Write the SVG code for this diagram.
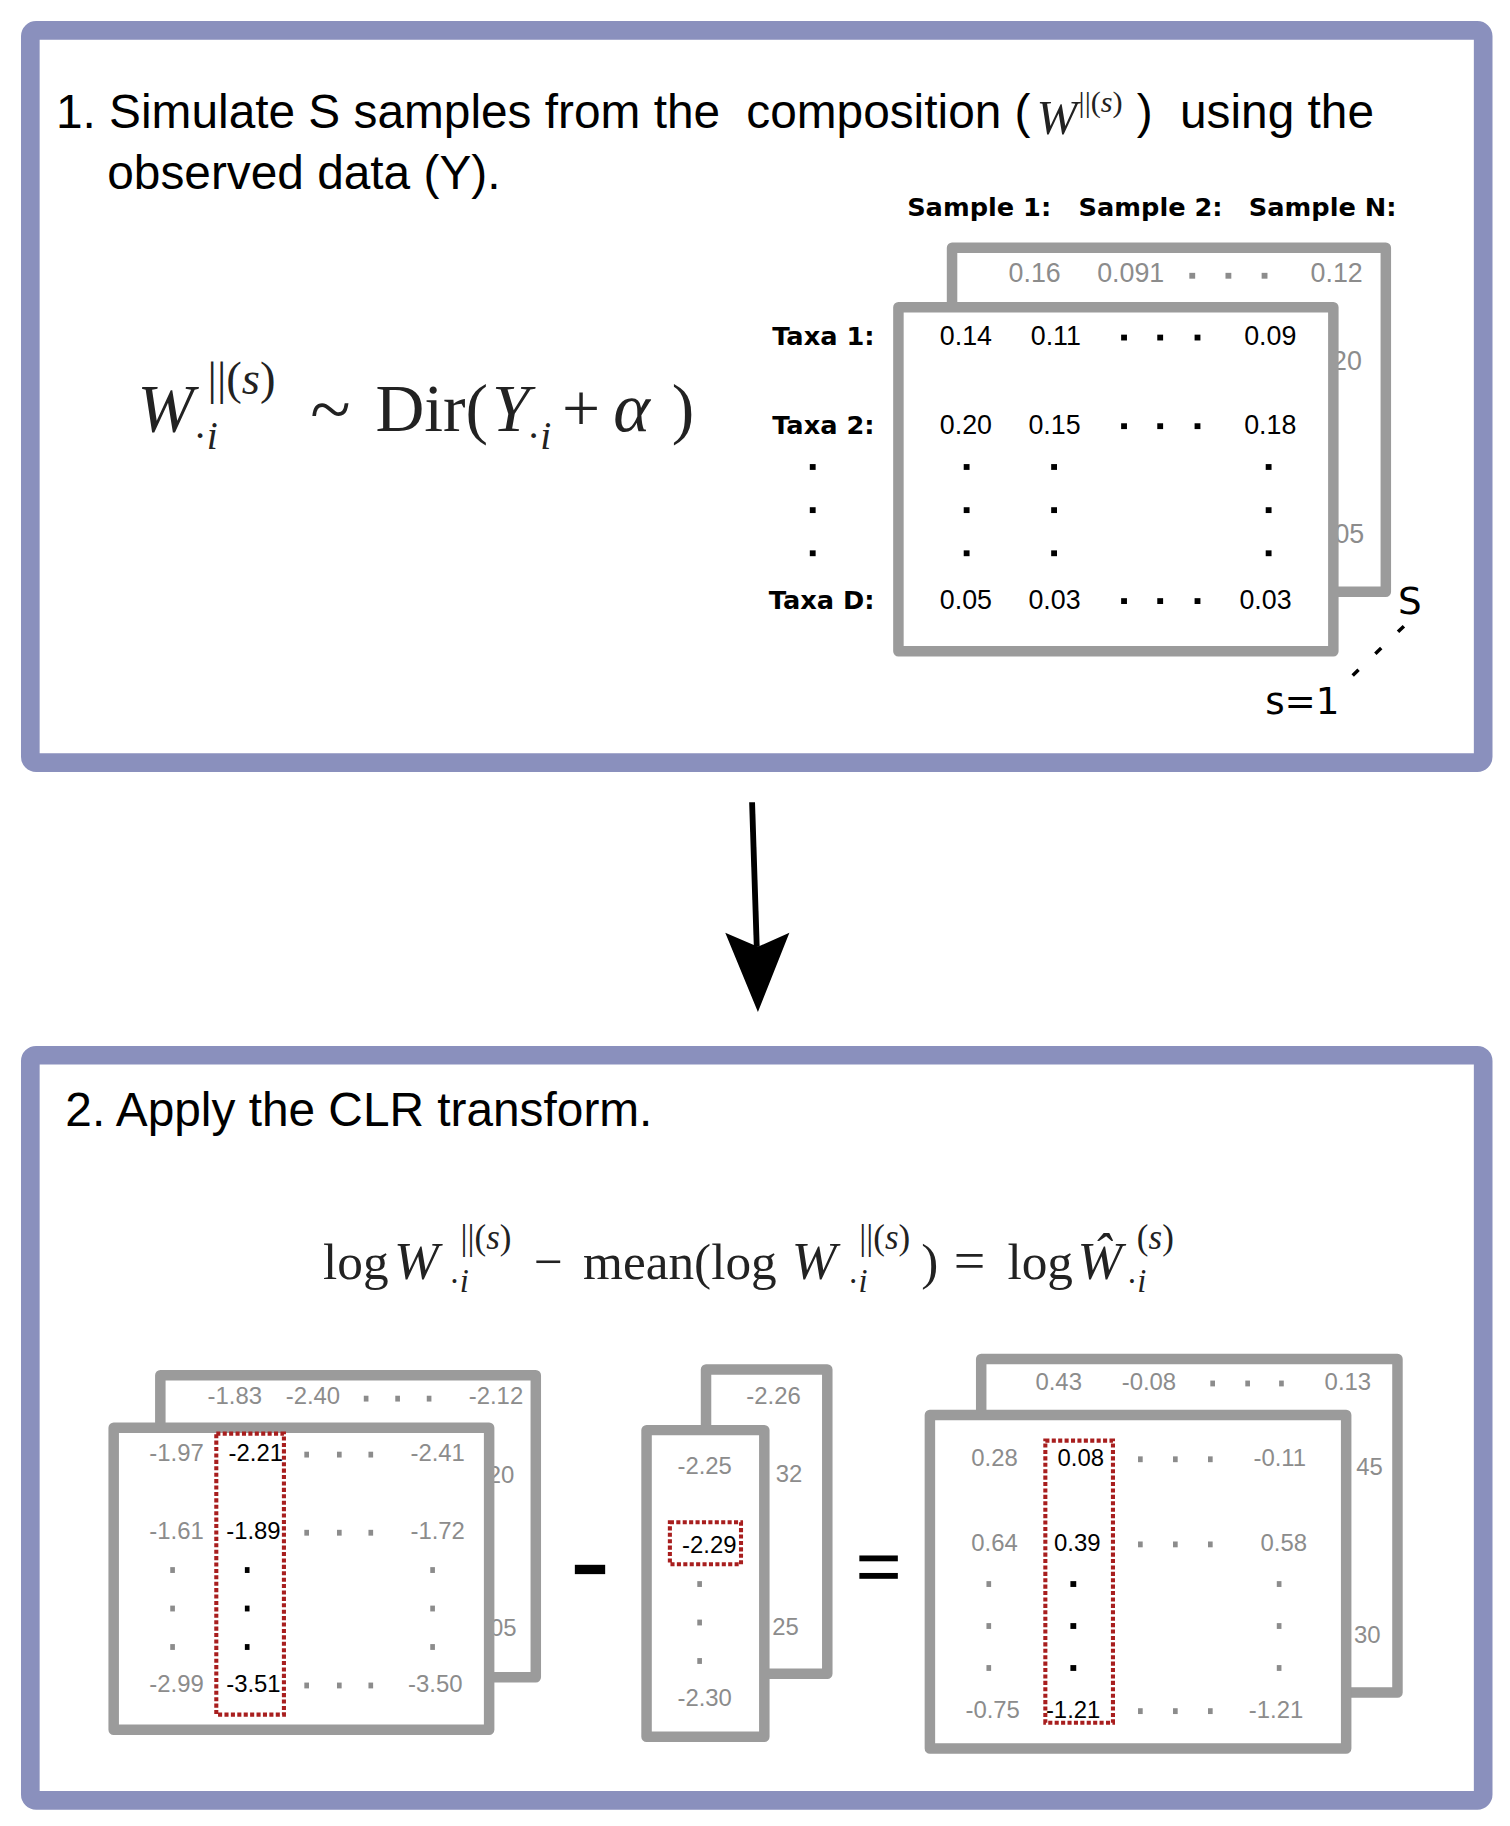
<svg xmlns="http://www.w3.org/2000/svg" width="1510" height="1826" viewBox="0 0 1510 1826">
<style>
.panel{fill:#fff;stroke:#8A90BD;stroke-width:16}
.mat{fill:#fff;stroke:#9B9B9B;stroke-width:9;stroke-linejoin:round}
.sel{fill:none;stroke:#A81E1E;stroke-width:3.5;stroke-dasharray:3.5 2}
.t{font-family:"Liberation Sans",Arial,sans-serif;fill:#000}
.big{font-size:41px}
.b{font-family:"DejaVu Sans",Verdana,sans-serif;font-weight:bold;font-size:22px;fill:#000}
.n{font-family:"Liberation Sans",Arial,sans-serif;font-size:23px;fill:#000}
.g{fill:#8C8C8C}
.n2{font-family:"Liberation Sans",Arial,sans-serif;font-size:20.5px;fill:#8C8C8C}
.k{fill:#000}
.m{font-family:"Liberation Serif","Times New Roman",serif;fill:#222}
.i{font-style:italic}
.v{font-family:"DejaVu Sans",Verdana,sans-serif;font-size:32px;fill:#000}
</style>
<rect width="1510" height="1826" fill="#fff"/>
<g transform="scale(1.16602)">
<g id="panel1">
<rect class="panel" x="26" y="26" width="1246" height="628" rx="5"/>
<text class="t big" x="48" y="110">1. Simulate S samples from the</text>
<text class="t big" x="640" y="110" xml:space="preserve">composition (</text>
<text class="m i" x="889" y="115" font-size="42" fill="#444">W</text>
<text class="m" x="925" y="96" font-size="26" fill="#444">||(<tspan class="i">s</tspan>)</text>
<text class="t big" x="975" y="110">)</text>
<text class="t big" x="1012" y="110">using the</text>
<text class="t big" x="92" y="162">observed data (Y).</text>
</g>
<g id="formula1" class="m">
<text class="m i" x="118" y="370" font-size="58">W</text>
<text class="m" x="178" y="338" font-size="40">||(<tspan class="i">s</tspan>)</text>
<text class="m" x="166" y="385" font-size="34">·<tspan class="i">i</tspan></text>
<text class="m" x="266" y="372" font-size="64">~</text>
<text class="m" x="322" y="370" font-size="58">Dir(</text>
<text class="m i" x="422" y="370" font-size="58">Y</text>
<text class="m" x="452" y="385" font-size="34">·<tspan class="i">i</tspan></text>
<text class="m" x="482" y="370" font-size="58">+</text>
<text class="m i" x="526" y="370" font-size="60">α</text>
<text class="m" x="576" y="370" font-size="58">)</text>
</g>
<g id="headers">
<text class="b" x="778" y="185">Sample 1:</text>
<text class="b" x="925" y="185">Sample 2:</text>
<text class="b" x="1071" y="185">Sample N:</text>
<text class="b" x="750" y="296" text-anchor="end">Taxa 1:</text>
<text class="b" x="750" y="372" text-anchor="end">Taxa 2:</text>
<text class="b" x="750" y="522" text-anchor="end">Taxa D:</text>
<rect x="694.5" y="398" width="5" height="5"/>
<rect x="694.5" y="435" width="5" height="5"/>
<rect x="694.5" y="472" width="5" height="5"/>
</g>
<g id="matrixS">
<rect class="mat" x="816.5" y="212.5" width="372" height="295"/>
<text class="n g" x="865" y="242">0.16</text>
<text class="n g" x="941" y="242">0.091</text>
<rect x="1020" y="234" width="5" height="5" fill="#8C8C8C"/>
<rect x="1051" y="234" width="5" height="5" fill="#8C8C8C"/>
<rect x="1082" y="234" width="5" height="5" fill="#8C8C8C"/>
<text class="n g" x="1124" y="242">0.12</text>
<text class="n g" x="1168" y="317" text-anchor="end">20</text>
<text class="n g" x="1170" y="466" text-anchor="end">05</text>
</g>
<g id="matrix1">
<rect class="mat" x="770.5" y="263.5" width="373" height="295"/>
<text class="n" x="806" y="296">0.14</text>
<text class="n" x="884" y="296">0.11</text>
<text class="n" x="1067" y="296">0.09</text>
<text class="n" x="806" y="372">0.20</text>
<text class="n" x="882" y="372">0.15</text>
<text class="n" x="1067" y="372">0.18</text>
<text class="n" x="806" y="522">0.05</text>
<text class="n" x="882" y="522">0.03</text>
<text class="n" x="1063" y="522">0.03</text>
<g fill="#000">
<rect x="961.5" y="287" width="5" height="5"/><rect x="992.5" y="287" width="5" height="5"/><rect x="1024.5" y="287" width="5" height="5"/>
<rect x="961.5" y="363" width="5" height="5"/><rect x="992.5" y="363" width="5" height="5"/><rect x="1024.5" y="363" width="5" height="5"/>
<rect x="961.5" y="513" width="5" height="5"/><rect x="992.5" y="513" width="5" height="5"/><rect x="1024.5" y="513" width="5" height="5"/>
<rect x="826.5" y="398" width="5" height="5"/><rect x="901.5" y="398" width="5" height="5"/><rect x="1085.5" y="398" width="5" height="5"/>
<rect x="826.5" y="435" width="5" height="5"/><rect x="901.5" y="435" width="5" height="5"/><rect x="1085.5" y="435" width="5" height="5"/>
<rect x="826.5" y="472" width="5" height="5"/><rect x="901.5" y="472" width="5" height="5"/><rect x="1085.5" y="472" width="5" height="5"/>
</g>
</g>
<g id="stackLabels">
<text class="v" x="1199" y="527">S</text>
<text class="v" x="1085" y="612">s=1</text>
<line x1="1204" y1="537" x2="1148" y2="591" stroke="#000" stroke-width="3" stroke-dasharray="7 20"/>
</g>
<g id="connectors">
<line x1="645" y1="688" x2="649" y2="812" stroke="#000" stroke-width="5"/>
<polygon points="622,800 650,812 677,800 650,868" fill="#000"/>
</g>
<g id="panel2">
<rect class="panel" x="26" y="905" width="1246" height="639" rx="5"/>
<text class="t big" x="56" y="966">2. Apply the CLR transform.</text>
</g>
<g id="formula2">
<text class="m" x="277" y="1097" font-size="44">log</text>
<text class="m i" x="338" y="1097" font-size="46">W</text>
<text class="m" x="395" y="1071" font-size="30">||(<tspan class="i">s</tspan>)</text>
<text class="m" x="385" y="1108" font-size="28">·<tspan class="i">i</tspan></text>
<text class="m" x="458" y="1097" font-size="44">−</text>
<text class="m" x="500" y="1097" font-size="44">mean(log</text>
<text class="m i" x="679" y="1097" font-size="46">W</text>
<text class="m" x="737" y="1071" font-size="30">||(<tspan class="i">s</tspan>)</text>
<text class="m" x="727" y="1108" font-size="28">·<tspan class="i">i</tspan></text>
<text class="m" x="790" y="1097" font-size="44">)</text>
<text class="m" x="818" y="1097" font-size="48">=</text>
<text class="m" x="864" y="1097" font-size="44">log</text>
<text class="m i" x="924" y="1097" font-size="46">Ŵ</text>
<text class="m" x="975" y="1071" font-size="30">(<tspan class="i">s</tspan>)</text>
<text class="m" x="966" y="1108" font-size="28">·<tspan class="i">i</tspan></text>
</g>
<g id="matrixA">
<rect class="mat" x="137.5" y="1179.5" width="322" height="259"/>
<text class="n2" x="178" y="1204">-1.83</text>
<text class="n2" x="245" y="1204">-2.40</text>
<g fill="#8C8C8C"><rect x="312" y="1197" width="4" height="5"/><rect x="339" y="1197" width="4" height="5"/><rect x="366" y="1197" width="4" height="5"/></g>
<text class="n2" x="402" y="1204">-2.12</text>
<text class="n2" x="441" y="1272" text-anchor="end">20</text>
<text class="n2" x="443" y="1403" text-anchor="end">05</text>
<rect class="mat" x="97.5" y="1224.5" width="322" height="259"/>
<text class="n2" x="128" y="1253">-1.97</text>
<text class="n2 k" x="196" y="1253">-2.21</text>
<text class="n2" x="352" y="1253">-2.41</text>
<text class="n2" x="128" y="1320">-1.61</text>
<text class="n2 k" x="194" y="1320">-1.89</text>
<text class="n2" x="352" y="1320">-1.72</text>
<text class="n2" x="128" y="1451">-2.99</text>
<text class="n2 k" x="194" y="1451">-3.51</text>
<text class="n2" x="350" y="1451">-3.50</text>
<g fill="#8C8C8C">
<rect x="261" y="1245" width="4" height="5"/><rect x="289" y="1245" width="4" height="5"/><rect x="316" y="1245" width="4" height="5"/>
<rect x="261" y="1312" width="4" height="5"/><rect x="289" y="1312" width="4" height="5"/><rect x="316" y="1312" width="4" height="5"/>
<rect x="261" y="1443" width="4" height="5"/><rect x="289" y="1443" width="4" height="5"/><rect x="316" y="1443" width="4" height="5"/>
<rect x="146" y="1344" width="4" height="5"/><rect x="146" y="1377" width="4" height="5"/><rect x="146" y="1410" width="4" height="5"/>
<rect x="369" y="1344" width="4" height="5"/><rect x="369" y="1377" width="4" height="5"/><rect x="369" y="1410" width="4" height="5"/>
</g>
<g fill="#000"><rect x="210" y="1344" width="4" height="5"/><rect x="210" y="1377" width="4" height="5"/><rect x="210" y="1410" width="4" height="5"/></g>
<rect class="sel" x="185.5" y="1229.5" width="58" height="241"/>
</g>
<g id="minus"><rect x="493" y="1342" width="26" height="8" fill="#000"/></g>
<g id="matrixB">
<rect class="mat" x="605.5" y="1174.5" width="104" height="261"/>
<text class="n2" x="640" y="1204">-2.26</text>
<text class="n2" x="688" y="1271" text-anchor="end">32</text>
<text class="n2" x="685" y="1402" text-anchor="end">25</text>
<rect class="mat" x="554.5" y="1226.5" width="101" height="263"/>
<text class="n2" x="581" y="1264">-2.25</text>
<text class="n2 k" x="585" y="1332">-2.29</text>
<text class="n2" x="581" y="1463">-2.30</text>
<g fill="#8C8C8C"><rect x="598" y="1356" width="4" height="5"/><rect x="598" y="1389" width="4" height="5"/><rect x="598" y="1422" width="4" height="5"/></g>
<rect class="sel" x="574.5" y="1305.5" width="61" height="36"/>
</g>
<g id="equals"><rect x="737" y="1334" width="33" height="5" fill="#000"/><rect x="737" y="1349" width="33" height="5" fill="#000"/></g>
<g id="matrixC">
<rect class="mat" x="841.5" y="1165.5" width="357" height="286"/>
<text class="n2" x="888" y="1192" font-size="21.5">0.43</text>
<text class="n2" x="962" y="1192" font-size="21.5">-0.08</text>
<g fill="#8C8C8C"><rect x="1038" y="1184" width="4" height="5"/><rect x="1068" y="1184" width="4" height="5"/><rect x="1097" y="1184" width="4" height="5"/></g>
<text class="n2" x="1136" y="1192" font-size="21.5">0.13</text>
<text class="n2" x="1186" y="1265" text-anchor="end" font-size="21.5">45</text>
<text class="n2" x="1184" y="1409" text-anchor="end" font-size="21.5">30</text>
<rect class="mat" x="797.5" y="1213.5" width="357" height="286"/>
<text class="n2" x="833" y="1257" font-size="21.5">0.28</text>
<text class="n2 k" x="907" y="1257" font-size="21.5">0.08</text>
<text class="n2" x="1075" y="1257" font-size="21.5">-0.11</text>
<text class="n2" x="833" y="1330" font-size="21.5">0.64</text>
<text class="n2 k" x="904" y="1330" font-size="21.5">0.39</text>
<text class="n2" x="1081" y="1330" font-size="21.5">0.58</text>
<text class="n2" x="828" y="1473" font-size="21.5">-0.75</text>
<text class="n2 k" x="897" y="1473" font-size="21.5">-1.21</text>
<text class="n2" x="1071" y="1473" font-size="21.5">-1.21</text>
<g fill="#8C8C8C">
<rect x="976" y="1249" width="4" height="5"/><rect x="1006" y="1249" width="4" height="5"/><rect x="1036" y="1249" width="4" height="5"/>
<rect x="976" y="1322" width="4" height="5"/><rect x="1006" y="1322" width="4" height="5"/><rect x="1036" y="1322" width="4" height="5"/>
<rect x="976" y="1465" width="4" height="5"/><rect x="1006" y="1465" width="4" height="5"/><rect x="1036" y="1465" width="4" height="5"/>
<rect x="846" y="1356" width="4" height="5"/><rect x="846" y="1392" width="4" height="5"/><rect x="846" y="1428" width="4" height="5"/>
<rect x="1095" y="1356" width="4" height="5"/><rect x="1095" y="1392" width="4" height="5"/><rect x="1095" y="1428" width="4" height="5"/>
</g>
<g fill="#000"><rect x="918" y="1356" width="5" height="5"/><rect x="918" y="1392" width="5" height="5"/><rect x="918" y="1428" width="5" height="5"/></g>
<rect class="sel" x="896.5" y="1235.5" width="58" height="242"/>
</g>
</g>
</svg>
